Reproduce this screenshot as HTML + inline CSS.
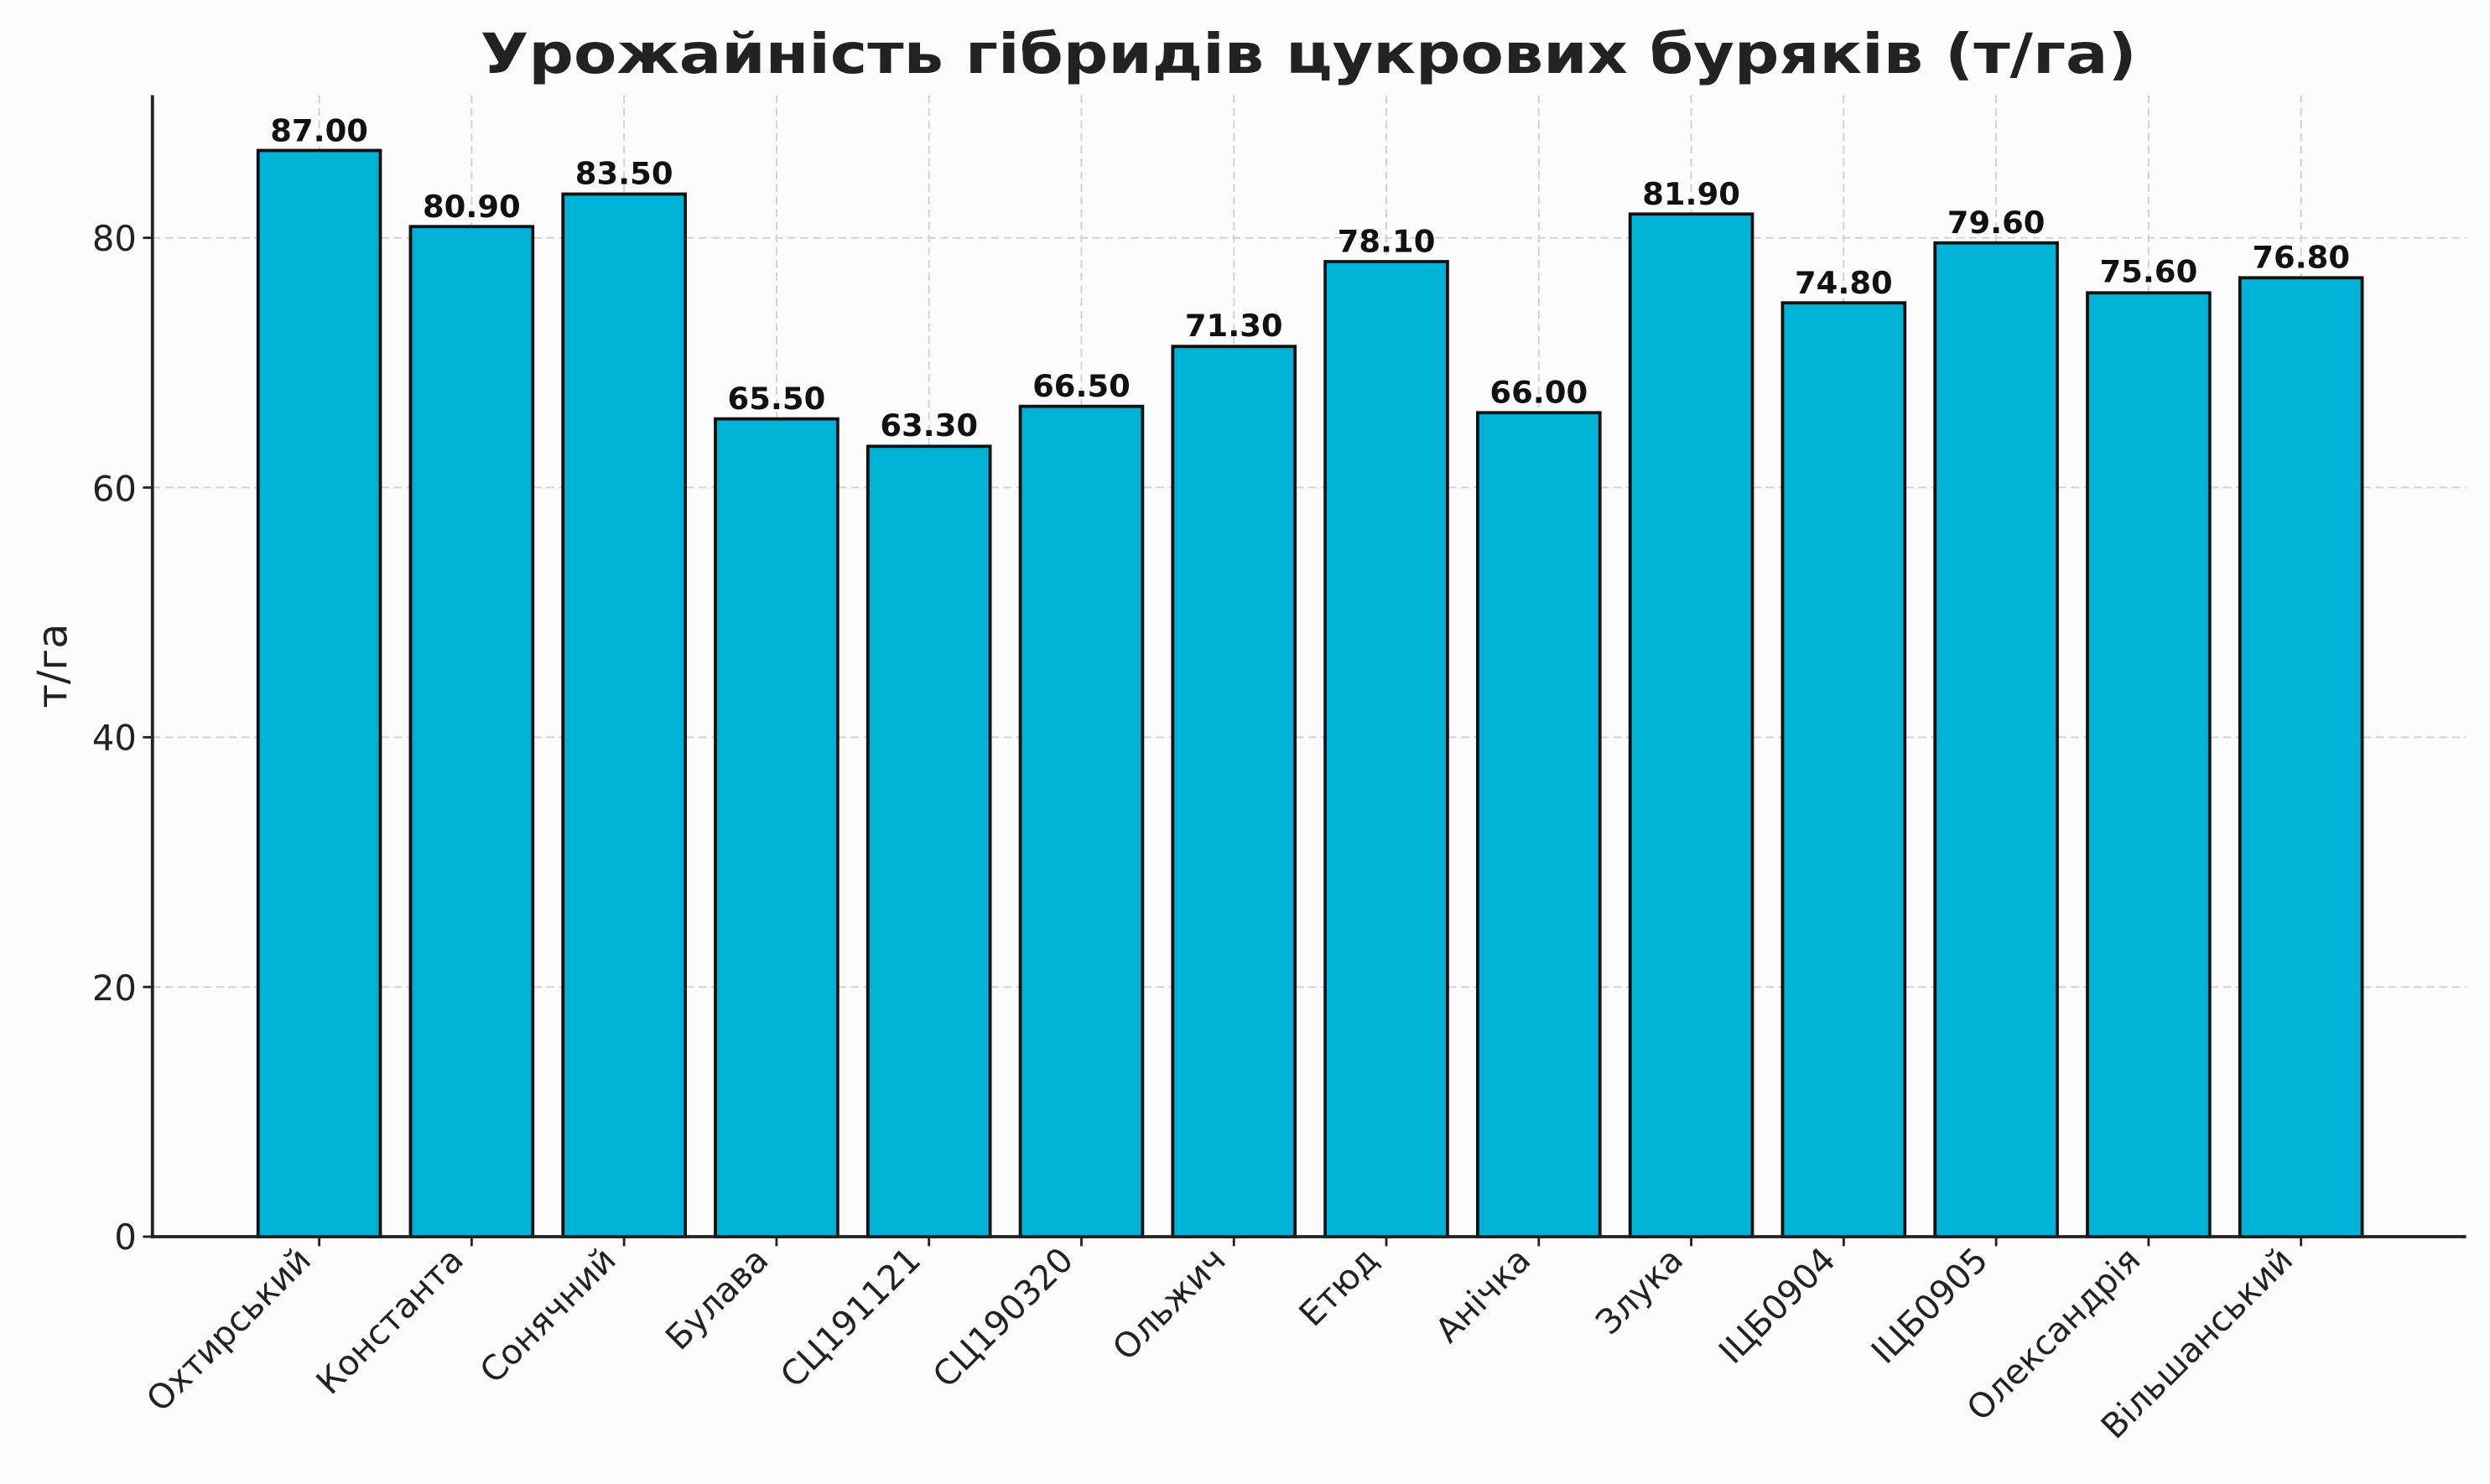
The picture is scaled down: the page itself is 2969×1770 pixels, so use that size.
<!DOCTYPE html>
<html><head><meta charset="utf-8"><style>html,body{margin:0;padding:0;background:#fcfcfc}svg{display:block}</style></head><body>
<svg width="2969" height="1770" viewBox="0 0 1568 936" preserveAspectRatio="none" xmlns="http://www.w3.org/2000/svg" font-family="DejaVu Sans, Liberation Sans, sans-serif">
<rect width="1568" height="936" fill="#fcfcfc"/>
<text x="824" y="46" text-anchor="middle" font-size="35" font-weight="bold" fill="#222" textLength="1043" lengthAdjust="spacingAndGlyphs">Урожайність гібридів цукрових буряків (т/га)</text>
<g stroke="#d0d0d0" stroke-width="1" stroke-dasharray="5,3">
<line x1="96" x2="1553" y1="622.5" y2="622.5"/><line x1="96" x2="1553" y1="465" y2="465"/><line x1="96" x2="1553" y1="307.5" y2="307.5"/><line x1="96" x2="1553" y1="150" y2="150"/>
<line x1="201" x2="201" y1="60" y2="780"/><line x1="297" x2="297" y1="60" y2="780"/><line x1="393" x2="393" y1="60" y2="780"/><line x1="489" x2="489" y1="60" y2="780"/><line x1="585" x2="585" y1="60" y2="780"/><line x1="681" x2="681" y1="60" y2="780"/><line x1="777" x2="777" y1="60" y2="780"/><line x1="873" x2="873" y1="60" y2="780"/><line x1="969" x2="969" y1="60" y2="780"/><line x1="1065" x2="1065" y1="60" y2="780"/><line x1="1161" x2="1161" y1="60" y2="780"/><line x1="1257" x2="1257" y1="60" y2="780"/><line x1="1353" x2="1353" y1="60" y2="780"/><line x1="1449" x2="1449" y1="60" y2="780"/>
</g>
<g fill="#00b2d6" stroke="#111" stroke-width="2">
<rect x="162.5" y="94.9" width="77" height="685.1"/>
<rect x="258.5" y="142.9" width="77" height="637.1"/>
<rect x="354.5" y="122.4" width="77" height="657.6"/>
<rect x="450.5" y="264.2" width="77" height="515.8"/>
<rect x="546.5" y="281.5" width="77" height="498.5"/>
<rect x="642.5" y="256.3" width="77" height="523.7"/>
<rect x="738.5" y="218.5" width="77" height="561.5"/>
<rect x="834.5" y="165" width="77" height="615"/>
<rect x="930.5" y="260.3" width="77" height="519.7"/>
<rect x="1026.5" y="135" width="77" height="645"/>
<rect x="1122.5" y="191" width="77" height="589"/>
<rect x="1218.5" y="153.2" width="77" height="626.8"/>
<rect x="1314.5" y="184.7" width="77" height="595.3"/>
<rect x="1410.5" y="175.2" width="77" height="604.8"/>
</g>
<g font-size="19.5" font-weight="bold" fill="#111" text-anchor="middle">
<text x="201" y="89">87.00</text><text x="297" y="137">80.90</text><text x="393" y="116">83.50</text><text x="489" y="258">65.50</text><text x="585" y="275">63.30</text><text x="681" y="250">66.50</text><text x="777" y="212">71.30</text><text x="873" y="159">78.10</text><text x="969" y="254">66.00</text><text x="1065" y="129">81.90</text><text x="1161" y="185">74.80</text><text x="1257" y="147">79.60</text><text x="1353" y="178">75.60</text><text x="1449" y="169">76.80</text>
</g>
<g stroke="#222" stroke-width="2"><line x1="96" y1="60" x2="96" y2="781"/><line x1="95" y1="780" x2="1553" y2="780"/></g>
<g font-size="22" fill="#222" text-anchor="end">
<text x="86" y="788">0</text><text x="86" y="631">20</text><text x="86" y="473">40</text><text x="86" y="316">60</text><text x="86" y="158">80</text>
</g>
<g stroke="#222" stroke-width="1.5"><line x1="90" x2="96" y1="780" y2="780"/><line x1="90" x2="96" y1="622.5" y2="622.5"/><line x1="90" x2="96" y1="465" y2="465"/><line x1="90" x2="96" y1="307.5" y2="307.5"/><line x1="90" x2="96" y1="150" y2="150"/>
<line x1="201" x2="201" y1="780" y2="786"/><line x1="297" x2="297" y1="780" y2="786"/><line x1="393" x2="393" y1="780" y2="786"/><line x1="489" x2="489" y1="780" y2="786"/><line x1="585" x2="585" y1="780" y2="786"/><line x1="681" x2="681" y1="780" y2="786"/><line x1="777" x2="777" y1="780" y2="786"/><line x1="873" x2="873" y1="780" y2="786"/><line x1="969" x2="969" y1="780" y2="786"/><line x1="1065" x2="1065" y1="780" y2="786"/><line x1="1161" x2="1161" y1="780" y2="786"/><line x1="1257" x2="1257" y1="780" y2="786"/><line x1="1353" x2="1353" y1="780" y2="786"/><line x1="1449" x2="1449" y1="780" y2="786"/></g>
<text transform="translate(42,420) rotate(-90)" text-anchor="middle" font-size="26" fill="#222">т/га</text>
<g font-size="21.5" fill="#222" text-anchor="end">
<text transform="translate(197,796) rotate(-45)">Охтирський</text>
<text transform="translate(293,796) rotate(-45)">Константа</text>
<text transform="translate(389,796) rotate(-45)">Сонячний</text>
<text transform="translate(485,796) rotate(-45)">Булава</text>
<text transform="translate(581,796) rotate(-45)">СЦ191121</text>
<text transform="translate(677,796) rotate(-45)">СЦ190320</text>
<text transform="translate(773,796) rotate(-45)">Ольжич</text>
<text transform="translate(869,796) rotate(-45)">Етюд</text>
<text transform="translate(965,796) rotate(-45)">Анічка</text>
<text transform="translate(1061,796) rotate(-45)">Злука</text>
<text transform="translate(1157,796) rotate(-45)">ІЦБ0904</text>
<text transform="translate(1253,796) rotate(-45)">ІЦБ0905</text>
<text transform="translate(1349,796) rotate(-45)">Олександрія</text>
<text transform="translate(1445,796) rotate(-45)">Вільшанський</text>
</g>
</svg>
</body></html>
